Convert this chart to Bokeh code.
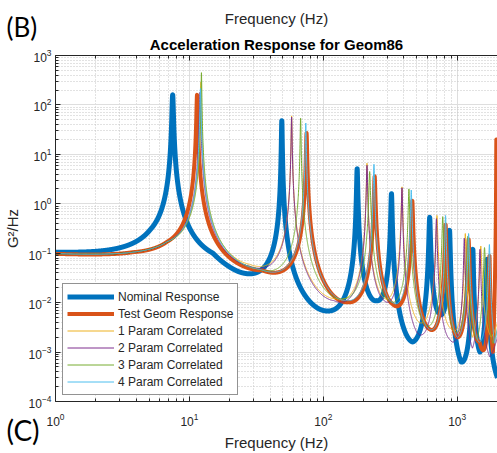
import numpy as np
from bokeh.plotting import figure
from bokeh.models import (LogAxis, Title, Legend, LegendItem, FixedTicker, Range1d,
                          CustomJSTickFormatter)
from bokeh.embed import file_html
from bokeh.resources import INLINE

# ---------------- data ----------------
# Each series: resonance peaks (Hz, G^2/Hz) and other read points of the curve (Hz, G^2/Hz)
nominal_peak_hz = [7.5, 49, 179, 323, 623, 877, 1309, 1675]
nominal_peak_val = [160, 48, 5.1, 1.6, 0.53, 0.29, 0.12, 0.075]
nominal_pt_hz = [1, 5.1, 15, 23, 108, 250, 465, 740, 1072, 1480, 2000]
nominal_pt_val = [0.105, 0.3, 0.1, 0.043, 0.0068, 0.011, 0.0016, 0.006, 0.00063, 0.001, 0.0003]

test_peak_hz = [11.4, 75, 242, 462, 819, 1217, 1742, 1960]
test_peak_val = [160, 27, 3.6, 1.15, 0.38, 0.19, 0.0875, 20]
test_pt_hz = [1, 3.8, 6.8, 35, 152, 330, 623, 1000, 1468, 1850, 2000]
test_pt_val = [0.097, 0.105, 0.17, 0.045, 0.0102, 0.0093, 0.0029, 0.002, 0.0016, 0.001, 0.5]

p1_peak_hz = [12.2, 58, 212, 387, 706, 1150, 1500]
p1_peak_val = [290, 60, 6.6, 2.2, 0.58, 0.25, 0.14]
p1_pt_hz = [1, 3.8, 6.8, 28, 125, 290, 520, 900, 1300, 1800, 2000]
p1_pt_val = [0.098, 0.105, 0.17, 0.06, 0.012, 0.012, 0.004, 0.003, 0.002, 0.002, 0.004]

p2_peak_hz = [12.0, 58, 212, 387, 700, 1130, 1480]
p2_peak_val = [180, 57, 6.0, 2.1, 0.5, 0.2, 0.12]
p2_pt_hz = [1, 3.8, 6.8, 28, 120, 285, 500, 880, 1300, 1750, 2000]
p2_pt_val = [0.098, 0.105, 0.17, 0.055, 0.011, 0.011, 0.0025, 0.0018, 0.0012, 0.0008, 0.002]

p3_peak_hz = [12.3, 67.7, 222, 436, 780, 1200, 1600]
p3_peak_val = [450, 54, 4.5, 2.0, 0.55, 0.22, 0.13]
p3_pt_hz = [1, 3.8, 6.8, 31, 140, 310, 580, 980, 1400, 1850, 2000]
p3_pt_val = [0.098, 0.105, 0.17, 0.05, 0.012, 0.011, 0.0035, 0.0025, 0.0018, 0.0015, 0.003]

p4_peak_hz = [12.1, 74, 239, 454, 819, 1217, 1740]
p4_peak_val = [215, 43, 6.3, 1.9, 0.58, 0.25, 0.15]
p4_pt_hz = [1, 3.8, 6.8, 34, 150, 330, 610, 1000, 1450, 1900, 2000]
p4_pt_val = [0.098, 0.105, 0.17, 0.047, 0.011, 0.01, 0.003, 0.002, 0.0016, 0.0015, 0.003]

labels = ["Nominal Response", "Test Geom Response", "1 Param Correlated",
          "2 Param Correlated", "3 Param Correlated", "4 Param Correlated"]
colors = ["#0072BD", "#D95319", "#EDB120", "#7E2F8E", "#77AC30", "#4DBEEE"]
widths = [5, 4, 1, 1, 1, 1]

F_MIN, F_MAX = 1.0, 2000.0
Y_MIN, Y_MAX = 1e-4, 1e3


def response(peak_hz, peak_val, pt_hz, pt_val):
    """Second-order resonance shapes passing through the read peaks and read points."""
    pk = np.array(peak_hz, float)
    pv = np.log10(np.array(peak_val, float))
    f = np.unique(np.concatenate([np.logspace(0, np.log10(F_MAX), 6000), pk]))
    knot_hz = np.array(pt_hz, float)
    knot_t = np.log10(np.array(pt_val, float))
    lk = np.log(knot_hz)

    def logM(freq, k, eps):
        r = np.asarray(freq, float) / pk[k]
        q = np.minimum(r, 1.0 / r)
        g = (1.0 - q * q) ** 2
        return -np.log10(g + eps[k])

    eps = np.full(len(pk), 1e-3)
    kb = knot_t.copy()
    for _ in range(80):
        s = sum(logM(knot_hz, k, eps) for k in range(len(pk)))
        kb = knot_t - s
        for k in range(len(pk)):
            b = np.interp(np.log(pk[k]), lk, kb)
            others = sum(logM(pk[k], j, eps) for j in range(len(pk)) if j != k)
            need = pv[k] - b - others
            eps[k] = np.clip(10 ** (-need), 1e-9, 1.0)
    lb = np.interp(np.log(f), lk, kb)
    tot = lb + sum(logM(f, k, eps) for k in range(len(pk)))
    return f, 10 ** tot


series = [
    (nominal_peak_hz, nominal_peak_val, nominal_pt_hz, nominal_pt_val),
    (test_peak_hz, test_peak_val, test_pt_hz, test_pt_val),
    (p1_peak_hz, p1_peak_val, p1_pt_hz, p1_pt_val),
    (p2_peak_hz, p2_peak_val, p2_pt_hz, p2_pt_val),
    (p3_peak_hz, p3_peak_val, p3_pt_hz, p3_pt_val),
    (p4_peak_hz, p4_peak_val, p4_pt_hz, p4_pt_val),
]

p = figure(width=497, height=453, x_axis_type="log", y_axis_type="log",
           x_range=Range1d(F_MIN, F_MAX), y_range=Range1d(Y_MIN, Y_MAX),
           output_backend="svg", toolbar_location=None,
           min_border_left=55, min_border_right=0, min_border_top=55, min_border_bottom=50)
p.outline_line_color = None
p.background_fill_color = "white"
p.border_fill_color = "white"

xmaj = [1, 10, 100, 1000]
xmin = [m * d for d in [1, 10, 100, 1000] for m in range(2, 10) if m * d <= F_MAX]
ymaj = [10.0 ** e for e in range(-4, 4)]
ymin = [m * 10.0 ** e for e in range(-4, 3) for m in range(2, 10)]
xt = FixedTicker(ticks=xmaj, minor_ticks=xmin)
yt = FixedTicker(ticks=ymaj, minor_ticks=ymin)

AX = "#262626"
for ax in (p.xaxis[0], p.yaxis[0]):
    ax.axis_line_color = AX
    ax.major_tick_line_color = AX
    ax.minor_tick_line_color = AX
    ax.major_tick_in = 5
    ax.major_tick_out = 0
    ax.minor_tick_in = 3
    ax.minor_tick_out = 0
    ax.major_label_text_font = "Liberation Sans"
    ax.major_label_text_font_size = "12px"
    ax.major_label_text_color = AX
    ax.axis_label_text_font = "Liberation Sans"
    ax.axis_label_text_font_size = "15px"
    ax.axis_label_text_font_style = "normal"
    ax.axis_label_text_color = AX
p.xaxis[0].ticker = xt
p.yaxis[0].ticker = yt
p.xaxis[0].axis_label = "Frequency (Hz)"
p.yaxis[0].axis_label = "G²/Hz"
p.xaxis[0].major_label_standoff = 11
p.xaxis[0].axis_label_standoff = 5
p.yaxis[0].major_label_standoff = 4
p.yaxis[0].axis_label_standoff = 5

top = LogAxis(ticker=xt, axis_line_color=AX, major_tick_line_color=AX,
              minor_tick_line_color=AX, major_tick_in=5, major_tick_out=0,
              minor_tick_in=3, minor_tick_out=0,
              formatter=CustomJSTickFormatter(code="return ''"),
              major_label_standoff=0)
p.add_layout(top, "above")

for g in (p.xgrid[0], p.ygrid[0]):
    g.grid_line_color = "#dedede"
    g.grid_line_width = 1
    g.minor_grid_line_color = "#c4c4c4"
    g.minor_grid_line_dash = "1 2"
    g.minor_grid_line_width = 1
p.xgrid[0].ticker = xt
p.ygrid[0].ticker = yt

renderers = []
for (ph, pv, th, tv), col, lw in zip(series, colors, widths):
    f, v = response(ph, pv, th, tv)
    r = p.line(f, v, line_color=col, line_width=lw, line_join="round")
    renderers.append(r)

legend = Legend(items=[LegendItem(label=l, renderers=[r]) for l, r in zip(labels, renderers)],
                location=(7, 6), border_line_color=AX, border_line_width=1,
                background_fill_color="white", background_fill_alpha=1.0,
                label_text_font="Liberation Sans", label_text_font_size="12px",
                label_text_color=AX, glyph_width=47, glyph_height=17, label_height=17,
                spacing=0, padding=4, margin=0, label_standoff=4)
p.add_layout(legend)


# texts outside the axes: top-aligned titles in the side panels whose (negative)
# standoff moves them over the neighbouring space without taking any room
def side_title(text, loc, size, font, style, align, standoff, offset=0, color=AX):
    p.add_layout(Title(text=text, align=align, vertical_align="top", offset=offset,
                       standoff=standoff, text_font=font, text_font_size=f"{size}px",
                       text_font_style=style, text_color=color), loc)


side_title("Acceleration Response for Geom86", "above", 15, "Liberation Sans", "bold",
           "center", -40, color="black")
side_title("(B)", "above", 26, "Lato", "normal", "left", -90, offset=-49, color="black")
side_title("Frequency (Hz)", "above", 15, "Liberation Sans", "normal", "center", -92)
side_title("(C)", "below", 28, "Lato", "normal", "left", -82, offset=-49, color="black")

open("out.html", "w").write(file_html(p, INLINE))
